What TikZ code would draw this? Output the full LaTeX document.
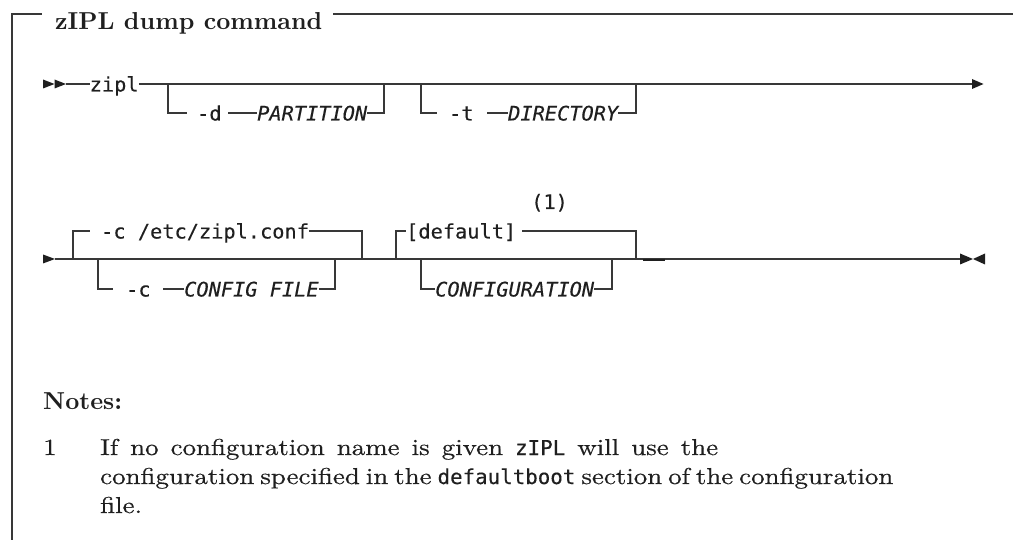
\documentclass[tikz,border=0pt]{standalone}
\usepackage{fontspec}
\newfontfamily\monof{DejaVu Sans Mono}[FakeStretch=1.015, FakeBold=0.3]
\newfontfamily\bodyf{lmroman10-regular.otf}[FakeStretch=1.17, FakeBold=0.5]
\newfontfamily\boldf{lmroman10-bold.otf}[FakeStretch=1.0]
\definecolor{ink}{gray}{0.12}
\definecolor{rulec}{gray}{0.22}
\tikzset{
  mono/.style={inner sep=0pt, anchor=base west, text=ink, font=\monof\fontsize{20}{23}\selectfont},
  monoit/.style={mono, font=\monof\itshape\fontsize{20}{23}\selectfont},
  body/.style={inner sep=0pt, anchor=base west, text=ink, font=\bodyf\fontsize{23}{27}\selectfont},
  bold/.style={inner sep=0pt, anchor=base west, text=ink, font=\boldf\fontsize{24.5}{28}\selectfont},
  rr/.style={draw=rulec, line width=1.1pt},
  frame/.style={draw=rulec, line width=1.3pt},
  tip/.style={fill=ink},
}
\begin{document}
\begin{tikzpicture}[x=1pt,y=-1pt]
\useasboundingbox (0,0) rectangle (1013,540);

% ---------- frame and title ----------
\node[bold] (title) at (55,29.5) {zIPL dump command};
\coordinate (fbl) at (12,540);
\coordinate (ftl) at (12,14);
\coordinate (ft1) at (42,14);
\coordinate (ft2) at (333,14);
\coordinate (ftr) at (1013,14);
\draw[frame] (fbl) -- (ftl) -- (ft1);
\draw[frame] (ft2) -- (ftr);

% ---------- row 1 ----------
\coordinate (s1) at (43,84);
\coordinate (a1) at (66,84);
\coordinate (e1) at (972,84);
\fill[tip] (43,79.5) -- ++(11.5,4.5) -- ++(-11.5,4.5) -- cycle;
\fill[tip] (54.5,79.5) -- ++(11.5,4.5) -- ++(-11.5,4.5) -- cycle;
\node[mono] (zipl) at (89.5,91.5) {zipl};
\draw[rr] (a1) -- (zipl.west |- a1);
\draw[rr] (zipl.east |- a1) -- (e1);
\fill[tip] (972,79) -- ++(11.5,5) -- ++(-11.5,5) -- cycle;

% -d PARTITION
\coordinate (d1) at (168,84);
\coordinate (d3) at (187,113);
\coordinate (d4) at (228,113);
\coordinate (dr) at (384,84);
\node[mono] (optd) at (197,120.5) {-d};
\node[monoit] (part) at (257,120.5) {PARTITION};
\draw[rr] (d1) |- (d3);
\draw[rr] (d4) -- (part.west |- d4);
\draw[rr] (part.east |- d4) -| (dr);

% -t DIRECTORY
\coordinate (t1) at (421,84);
\coordinate (t3) at (437,113);
\coordinate (t4) at (487,113);
\coordinate (tr) at (636,84);
\node[mono] (optt) at (449,120.5) {-t};
\node[monoit] (dir) at (508,120.5) {DIRECTORY};
\draw[rr] (t1) |- (t3);
\draw[rr] (t4) -- (dir.west |- t4);
\draw[rr] (dir.east |- t4) -| (tr);

% ---------- row 2 ----------
\coordinate (s2) at (55,259);
\coordinate (e2) at (960,259);
\fill[tip] (43,254.5) -- ++(12,4.5) -- ++(-12,4.5) -- cycle;
\draw[rr] (s2) -- (e2);

% -c /etc/zipl.conf (default)
\coordinate (c1) at (73,259);
\coordinate (c2) at (90,231);
\coordinate (cr) at (362,259);
\node[mono] (cdef) at (101,238.5) {-c /etc/zipl.conf};
\draw[rr] (c1) |- (c2);
\draw[rr] (cdef.east |- c2) -| (cr);

% -c CONFIG FILE
\coordinate (g1) at (98,259);
\coordinate (g3) at (113,289);
\coordinate (g4) at (163,289);
\coordinate (gr) at (335,259);
\node[mono] (optc) at (126,296.5) {-c};
\node[monoit] (cfile) at (184,296.5) {CONFIG FILE};
\draw[rr] (g1) |- (g3);
\draw[rr] (g4) -- (cfile.west |- g4);
\draw[rr] (cfile.east |- g4) -| (gr);

% [default] (1)
\coordinate (k1) at (396,259);
\coordinate (k3) at (522,231);
\coordinate (kr) at (636,259);
\node[mono] (dflt) at (406,238.5) {[default]};
\node[mono] (note1) at (531,209) {(1)};
\draw[rr] (k1) |- (dflt.west |- k3);
\draw[rr] (k3) -| (kr);

% CONFIGURATION
\coordinate (m1) at (421,259);
\coordinate (mr) at (612,259);
\node[monoit] (conf) at (435,296.5) {CONFIGURATION};
\draw[rr] (m1) |- (conf.west |- 0,289);
\draw[rr] (conf.east |- 0,289) -| (mr);

% short heavier segment
\coordinate (h1) at (643,259.6);
\coordinate (h2) at (665,259.6);
\draw[draw=ink, line width=2pt] (h1) -- (h2);

% end tips
\fill[tip] (960,253.5) -- ++(13,5.5) -- ++(-13,5.5) -- cycle;
\fill[tip] (985,253.5) -- ++(-12,5.5) -- ++(12,5.5) -- cycle;

% ---------- notes ----------
\node[bold] (notes) at (43,409.5) {Notes:};
\node[body] (num) at (43,455) {1};
\node[body] (l1) at (100,455) {\hbox to 618pt{If no configuration name is given {\monof\fontsize{20.5}{24}\selectfont zIPL} will use the}};
\node[body] (l2) at (100,484) {\hbox to 678pt{configuration specified in the {\monof\fontsize{20.5}{24}\selectfont defaultboot} section of the configuration}};
\node[body] (l3) at (100,513) {file.};
\end{tikzpicture}
\end{document}
